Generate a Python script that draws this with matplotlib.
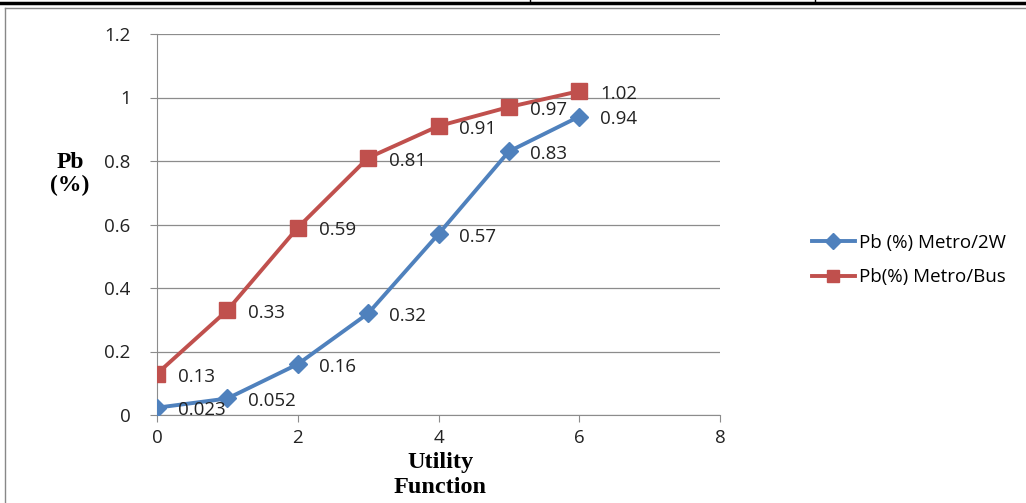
import matplotlib.pyplot as plt
from matplotlib.lines import Line2D

utility = [0, 1, 2, 3, 4, 5, 6]
pb_2w = [0.023, 0.052, 0.16, 0.32, 0.57, 0.83, 0.94]
pb_bus = [0.13, 0.33, 0.59, 0.81, 0.91, 0.97, 1.02]
labels_2w = ["0.023", "0.052", "0.16", "0.32", "0.57", "0.83", "0.94"]
labels_bus = ["0.13", "0.33", "0.59", "0.81", "0.91", "0.97", "1.02"]

blue = "#4F81BD"
red = "#C0504D"
sans = ["Open Sans", "DejaVu Sans"]
fs = 13.5

fig = plt.figure(figsize=(10.26, 5.03), dpi=100)
ax = fig.add_axes([157 / 1026, 1 - 415 / 503, (720 - 157) / 1026, (415 - 34) / 503])

ax.plot(utility, pb_2w, color=blue, lw=2.8, marker="D", ms=9.5, label="Pb (%) Metro/2W", zorder=3)
ax.plot(utility, pb_bus, color=red, lw=2.8, marker="s", ms=11, label="Pb(%) Metro/Bus", zorder=3)

for x, y, t in zip(utility, pb_2w, labels_2w):
    ax.annotate(t, (x, y), xytext=(15, -2), textcoords="offset points",
                va="center", ha="left", fontsize=fs, family=sans, color="#222222")
for x, y, t in zip(utility, pb_bus, labels_bus):
    ax.annotate(t, (x, y), xytext=(15, -2), textcoords="offset points",
                va="center", ha="left", fontsize=fs, family=sans, color="#222222")

ax.set_xlim(0, 8)
ax.set_ylim(0, 1.2)
ax.set_xticks([0, 2, 4, 6, 8])
ax.set_yticks([0, 0.2, 0.4, 0.6, 0.8, 1.0, 1.2])
ax.set_yticklabels(["0", "0.2", "0.4", "0.6", "0.8", "1", "1.2"])
ax.grid(axis="y", color="#8c8c8c", lw=0.9)
ax.set_axisbelow(True)
for s in ["top", "right"]:
    ax.spines[s].set_visible(False)
for s in ["left", "bottom"]:
    ax.spines[s].set_color("#8c8c8c")
ax.tick_params(axis="both", colors="#8c8c8c", labelcolor="#222222", labelsize=fs, length=5)
for lab in ax.get_xticklabels() + ax.get_yticklabels():
    lab.set_family(sans)
ax.tick_params(axis="y", pad=14)
ax.tick_params(axis="x", pad=5)

fig.text(70 / 1026, 1 - 174 / 503, "Pb\n(%)", ha="center", va="center", fontsize=17,
         fontweight="bold", family="Liberation Serif", linespacing=1.15)
fig.text(440 / 1026, 1 - 475 / 503, "Utility\nFunction", ha="center", va="center", fontsize=17.5,
         fontweight="bold", family="Liberation Serif", linespacing=1.2)

handles = [Line2D([], [], color=blue, lw=2.8, marker="D", ms=8),
           Line2D([], [], color=red, lw=2.8, marker="s", ms=9)]
fig.legend(handles, ["Pb (%) Metro/2W", "Pb(%) Metro/Bus"], loc="center left",
           bbox_to_anchor=(795 / 1026, 1 - 260 / 503), frameon=False,
           prop={"family": sans, "size": fs}, handlelength=2.3, handletextpad=0.2,
           labelspacing=0.9)

# frame lines of the original page
fig.add_artist(Line2D([0, 1], [1 - 3 / 503, 1 - 3 / 503], color="black", lw=2.5))
fig.add_artist(Line2D([0.005, 1], [1 - 8 / 503, 1 - 8 / 503], color="#888888", lw=1))
fig.add_artist(Line2D([5 / 1026, 5 / 1026], [0, 1 - 8 / 503], color="#888888", lw=1))
fig.add_artist(Line2D([530 / 1026, 530 / 1026], [1 - 3 / 503, 1], color="black", lw=1))
fig.add_artist(Line2D([815 / 1026, 815 / 1026], [1 - 3 / 503, 1], color="black", lw=1))

fig.savefig("out.png", dpi=100)
